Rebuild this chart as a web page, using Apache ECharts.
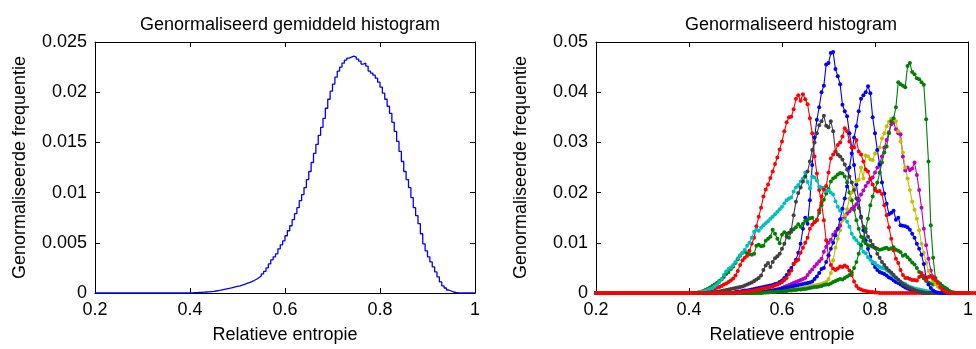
<!DOCTYPE html>
<html>
<head>
<meta charset="utf-8">
<script src="https://cdn.jsdelivr.net/npm/echarts@6/dist/echarts.min.js"></script>
<style>
html,body{margin:0;padding:0;background:#fff;}
#chart{width:976px;height:349px;}
</style>
</head>
<body>
<div id="chart"></div>
<script>
// ---------- data ----------
const titleLeft = 'Genormaliseerd gemiddeld histogram';
const titleRight = 'Genormaliseerd histogram';
const xAxisName = 'Relatieve entropie';
const yAxisName = 'Genormaliseerde frequentie';
const xTicks = [0.2, 0.4, 0.6, 0.8, 1];
const yTicksLeft = [0, 0.005, 0.01, 0.015, 0.02, 0.025];
const yTicksRight = [0, 0.01, 0.02, 0.03, 0.04, 0.05];

// bin left edges: 0.2 + 0.005*i
const binStart = 0.2;
const binWidth = 0.005;

// averaged histogram (left panel), one value per bin
const meanHist = [
0,0,0,0,0,0,0,0,0,0,
0,0,0,0,0,0,0,0,0,0,
0,0,0,0,0,0,0,0,0,0,
0,0,0,0,0,0,0,0,0,0,
0.00002,0.00003,0.00004,0.00005,0.00006,0.00008,0.0001,0.00012,0.00014,0.00016,
0.0002,0.00024,0.00028,0.00033,0.00038,0.00043,0.00048,0.00054,0.0006,0.00066,
0.00072,0.00079,0.00087,0.00095,0.00104,0.00113,0.00124,0.00137,0.00152,0.0017,
0.0019,0.00215,0.0025,0.0029,0.0033,0.0036,0.0039,0.0044,0.0048,0.0052,
0.0057,0.0062,0.0067,0.0073,0.0079,0.0085,0.0092,0.0098,0.0105,0.0113,
0.0121,0.013,0.0139,0.0148,0.0157,0.0165,0.0174,0.0184,0.0193,0.0201,
0.0208,0.0215,0.0221,0.0225,0.0229,0.0232,0.0234,0.0235,0.0236,0.0235,
0.0233,0.0231,0.0228,0.0229,0.0226,0.0221,0.0219,0.0217,0.0214,0.021,
0.0205,0.0199,0.0193,0.0186,0.0179,0.017,0.0161,0.0151,0.0141,0.0131,
0.0121,0.0113,0.0105,0.0095,0.0085,0.0077,0.0069,0.0059,0.0049,0.0042,
0.0036,0.0031,0.0026,0.0021,0.0016,0.0011,0.0007,0.0005,0.0003,0.0002,
0.0001,0.00005,0.00002,0,0,0,0,0,0,0,
0
];

// individual histograms (right panel), one value per bin
const hist1Blue = [
0,0,0,0,0,0,0,0,0,0, 0,0,0,0,0,0,0,0,0,0, 0,0,0,0,0,0,0,0,0,0,
0,0,0,0,0,0,0,0,0,0, 0,0,0,0,0,0,0,0,0,0, 0,0,0,0,0,0,0,0,0,0,
0.0002,0.0003,0.0003,0.0004,0.0005,0.0005,0.0006,0.0007,0.0008,0.0009,
0.0010,0.0011,0.0012,0.0013,0.0014,0.0015,0.0016,0.0018,0.0019,0.0022,
0.0025,0.0030,0.0036,0.0044,0.0050,0.0058,0.0066,0.0080,0.0098,0.0128,
0.0150,0.0138,0.0185,0.0255,0.0310,0.0345,0.0370,0.0400,0.0413,0.0455,
0.0458,0.0478,0.0480,0.0446,0.0432,0.0416,0.0375,0.0362,0.0352,0.0318,
0.0290,0.0255,0.0216,0.0185,0.0152,0.0125,0.0105,0.0088,0.0072,0.0060,
0.0052,0.0046,0.0042,0.0040,0.0038,0.0035,0.0031,0.0029,0.0025,0.0022,
0.0020,0.0017,0.0014,0.0011,0.0009,0.0007,0.0005,0.0004,0.0003,0.0002,
0.0001,0,0,0,0,0,0,0,0,0,
0,0,0,0,0,0,0,0,0,0,
0
];
const hist2Green = [
0,0,0,0,0,0,0,0,0,0, 0,0,0,0,0,0,0,0,0,0, 0,0,0,0,0,0,0,0,0,0,
0,0,0,0,0,0,0,0,0,0,
0,0,0,0,0.0001,0.0002,0.0004,0.0006,0.0008,0.0011,
0.0014,0.0017,0.0020,0.0024,0.0027,0.0032,0.0038,0.0042,0.0048,0.0053,
0.0060,0.0067,0.0074,0.0080,0.0082,0.0079,0.0077,0.0076,0.0078,0.0094,
0.0096,0.0093,0.0094,0.0104,0.0108,0.0112,0.0126,0.0118,0.0108,0.0099,
0.0116,0.0121,0.0118,0.0110,0.0122,0.0127,0.0131,0.0137,0.0132,0.0138,
0.0144,0.0146,0.0149,0.0150,0.0141,0.0145,0.0160,0.0175,0.0186,0.0198,
0.0207,0.0222,0.0228,0.0231,0.0236,0.0239,0.0238,0.0232,0.0220,0.0200,
0.0185,0.0166,0.0145,0.0128,0.0112,0.0104,0.0099,0.0095,0.0094,0.0092,
0.0090,0.0088,0.0086,0.0087,0.0089,0.0090,0.0087,0.0089,0.0091,0.0086,
0.0084,0.0081,0.0074,0.0076,0.0071,0.0066,0.0061,0.0057,0.0050,0.0042,
0.0034,0.0029,0.0024,0.0021,0.0019,0.0017,0.0019,0.0017,0.0016,0.0013,
0.0011,0.0008,0.0004,0.0002,0.0001,0,0,0,0,0,
0
];
const hist3Red = [
0,0,0,0,0,0,0,0,0,0, 0,0,0,0,0,0,0,0,0,0, 0,0,0,0,0,0,0,0,0,0,
0,0,0,0,0,0,0,0,0,0,
0,0,0,0,0,0,0.0002,0.0003,0.0005,0.0006,
0.0008,0.0009,0.0011,0.0012,0.0014,0.0017,0.0019,0.0022,0.0025,0.0029,
0.0035,0.0044,0.0056,0.0065,0.0070,0.0074,0.0084,0.0098,0.0110,0.0133,
0.0152,0.0170,0.0192,0.0206,0.0216,0.0229,0.0242,0.0257,0.0270,0.0286,
0.0302,0.0322,0.0340,0.0350,0.0351,0.0366,0.0387,0.0394,0.0383,0.0396,
0.0386,0.0376,0.0348,0.0318,0.0272,0.0238,0.0205,0.0180,0.0145,0.0105,
0.0074,0.0056,0.0049,0.0046,0.0049,0.0053,0.0052,0.0055,0.0052,0.0045,
0.0036,0.0023,0.0014,0.0009,0.0007,0.0005,0.0004,0.0003,0.0002,0.0002,
0.0001,0.0001,0,0,0,0,0,0,0,0,
0,0,0,0,0,0,0,0,0,0, 0,0,0,0,0,0,0,0,0,0, 0,0,0,0,0,0,0,0,0,0,
0,0,0,0,0,0,0,0,0,0,
0
];
const hist4Cyan = [
0,0,0,0,0,0,0,0,0,0, 0,0,0,0,0,0,0,0,0,0, 0,0,0,0,0,0,0,0,0,0,
0,0,0,0,0,0,0,0,0,0,
0,0,0,0,0.0001,0.0002,0.0003,0.0004,0.0006,0.0008,
0.0010,0.0013,0.0017,0.0022,0.0028,0.0036,0.0043,0.0048,0.0051,0.0056,
0.0062,0.0069,0.0075,0.0080,0.0086,0.0094,0.0100,0.0110,0.0122,0.0126,
0.0124,0.0130,0.0135,0.0139,0.0143,0.0148,0.0152,0.0157,0.0162,0.0167,
0.0172,0.0179,0.0185,0.0188,0.0190,0.0202,0.0210,0.0215,0.0222,0.0228,
0.0240,0.0221,0.0208,0.0232,0.0230,0.0224,0.0212,0.0210,0.0209,0.0203,
0.0204,0.0200,0.0196,0.0183,0.0172,0.0164,0.0168,0.0150,0.0142,0.0132,
0.0118,0.0110,0.0105,0.0099,0.0090,0.0082,0.0079,0.0071,0.0066,0.0062,
0.0060,0.0055,0.0052,0.0050,0.0049,0.0046,0.0043,0.0038,0.0034,0.0030,
0.0026,0.0023,0.0020,0.0018,0.0015,0.0012,0.0011,0.0009,0.0008,0.0007,
0.0006,0.0005,0.0004,0.0003,0.0002,0.0001,0,0,0,0,
0,0,0,0,0,0,0,0,0,0,
0
];
const hist5Magenta = [
0,0,0,0,0,0,0,0,0,0, 0,0,0,0,0,0,0,0,0,0, 0,0,0,0,0,0,0,0,0,0,
0,0,0,0,0,0,0,0,0,0, 0,0,0,0,0,0,0,0,0,0, 0,0,0,0,0,0,0,0,0,0,
0,0,0,0,0,0,0,0,0,0,
0,0,0.0001,0.0002,0.0003,0.0004,0.0005,0.0006,0.0007,0.0008,
0.0010,0.0012,0.0014,0.0016,0.0018,0.0020,0.0022,0.0024,0.0026,0.0028,
0.0030,0.0036,0.0042,0.0047,0.0053,0.0058,0.0063,0.0068,0.0082,0.0092,
0.0100,0.0106,0.0116,0.0122,0.0127,0.0134,0.0148,0.0154,0.0158,0.0163,
0.0168,0.0172,0.0177,0.0186,0.0196,0.0204,0.0213,0.0220,0.0226,0.0230,
0.0240,0.0250,0.0258,0.0272,0.0290,0.0305,0.0320,0.0336,0.0340,0.0326,
0.0318,0.0316,0.0272,0.0244,0.0250,0.0245,0.0248,0.0260,0.0235,0.0205,
0.0170,0.0128,0.0095,0.0068,0.0045,0.0033,0.0026,0.0021,0.0015,0.0009,
0.0005,0.0002,0.0001,0,0,0,0,0,0,0,
0
];
const hist6Yellow = [
0,0,0,0,0,0,0,0,0,0, 0,0,0,0,0,0,0,0,0,0, 0,0,0,0,0,0,0,0,0,0,
0,0,0,0,0,0,0,0,0,0, 0,0,0,0,0,0,0,0,0,0, 0,0,0,0,0,0,0,0,0,0,
0,0,0,0,0,0,0,0,0,0,
0,0,0.0001,0.0001,0.0002,0.0002,0.0003,0.0003,0.0004,0.0004,
0.0005,0.0005,0.0006,0.0006,0.0007,0.0007,0.0008,0.0008,0.0009,0.0010,
0.0011,0.0012,0.0013,0.0014,0.0015,0.0016,0.0017,0.0018,0.0020,0.0022,
0.0028,0.0040,0.0065,0.0090,0.0108,0.0125,0.0145,0.0155,0.0167,0.0188,
0.0200,0.0210,0.0222,0.0226,0.0250,0.0228,0.0274,0.0272,0.0266,0.0265,
0.0278,0.0284,0.0290,0.0308,0.0318,0.0332,0.0341,0.0347,0.0346,0.0342,
0.0322,0.0302,0.0280,0.0250,0.0228,0.0205,0.0182,0.0166,0.0148,0.0125,
0.0098,0.0080,0.0060,0.0044,0.0032,0.0024,0.0018,0.0013,0.0009,0.0005,
0.0002,0.0001,0,0,0,0,0,0,0,0,
0
];
const hist7Gray = [
0,0,0,0,0,0,0,0,0,0, 0,0,0,0,0,0,0,0,0,0, 0,0,0,0,0,0,0,0,0,0,
0,0,0,0,0,0,0,0,0,0,
0,0,0,0,0,0,0,0,0.0001,0.0001,
0.0002,0.0002,0.0003,0.0003,0.0004,0.0005,0.0006,0.0007,0.0008,0.0009,
0.0010,0.0011,0.0012,0.0013,0.0015,0.0017,0.0019,0.0021,0.0024,0.0027,
0.0030,0.0035,0.0046,0.0055,0.0060,0.0052,0.0062,0.0069,0.0073,0.0078,
0.0088,0.0098,0.0112,0.0120,0.0126,0.0155,0.0182,0.0199,0.0210,0.0222,
0.0232,0.0242,0.0262,0.0285,0.0300,0.0318,0.0334,0.0342,0.0353,0.0333,
0.0330,0.0342,0.0322,0.0282,0.0276,0.0272,0.0266,0.0256,0.0246,0.0232,
0.0220,0.0205,0.0188,0.0170,0.0150,0.0132,0.0122,0.0112,0.0104,0.0096,
0.0090,0.0078,0.0070,0.0062,0.0056,0.0050,0.0045,0.0041,0.0036,0.0031,
0.0027,0.0022,0.0018,0.0015,0.0012,0.0010,0.0008,0.0006,0.0004,0.0003,
0.0002,0.0001,0,0,0,0,0,0,0,0,
0,0,0,0,0,0,0,0,0,0,
0
];
const hist8Blue = [
0,0,0,0,0,0,0,0,0,0, 0,0,0,0,0,0,0,0,0,0, 0,0,0,0,0,0,0,0,0,0,
0,0,0,0,0,0,0,0,0,0, 0,0,0,0,0,0,0,0,0,0, 0,0,0,0,0,0,0,0,0,0,
0,0,0,0,0,0,0,0,0.0001,0.0001,
0.0002,0.0002,0.0003,0.0003,0.0004,0.0005,0.0005,0.0006,0.0007,0.0008,
0.0009,0.0010,0.0011,0.0012,0.0013,0.0014,0.0015,0.0016,0.0017,0.0018,
0.0019,0.0020,0.0021,0.0023,0.0028,0.0033,0.0040,0.0048,0.0050,0.0062,
0.0075,0.0088,0.0100,0.0115,0.0128,0.0147,0.0168,0.0188,0.0212,0.0250,
0.0278,0.0310,0.0332,0.0362,0.0387,0.0394,0.0400,0.0412,0.0398,0.0350,
0.0318,0.0285,0.0256,0.0220,0.0198,0.0178,0.0157,0.0160,0.0164,0.0146,
0.0150,0.0135,0.0134,0.0133,0.0131,0.0126,0.0118,0.0110,0.0098,0.0088,
0.0076,0.0058,0.0030,0.0017,0.0010,0.0005,0.0002,0.0001,0,0,
0,0,0,0,0,0,0,0,0,0,
0
];
const hist9Green = [
0,0,0,0,0,0,0,0,0,0, 0,0,0,0,0,0,0,0,0,0, 0,0,0,0,0,0,0,0,0,0,
0,0,0,0,0,0,0,0,0,0, 0,0,0,0,0,0,0,0,0,0, 0,0,0,0,0,0,0,0,0,0,
0,0,0,0,0,0,0,0,0,0,
0,0,0.0001,0.0001,0.0001,0.0002,0.0002,0.0002,0.0003,0.0003,
0.0003,0.0004,0.0004,0.0005,0.0005,0.0006,0.0006,0.0007,0.0007,0.0008,
0.0008,0.0009,0.0010,0.0011,0.0012,0.0012,0.0013,0.0014,0.0016,0.0017,
0.0017,0.0019,0.0022,0.0024,0.0026,0.0028,0.0027,0.0030,0.0033,0.0036,
0.0041,0.0050,0.0062,0.0078,0.0095,0.0110,0.0128,0.0148,0.0175,0.0192,
0.0208,0.0220,0.0240,0.0260,0.0280,0.0292,0.0318,0.0342,0.0348,0.0370,
0.0420,0.0416,0.0413,0.0410,0.0452,0.0458,0.0440,0.0436,0.0428,0.0426,
0.0420,0.0415,0.0346,0.0262,0.0135,0.0070,0.0030,0.0022,0.0019,0.0014,
0.0010,0.0006,0.0003,0.0001,0,0,0,0,0,0,
0
];
const hist10Red = [
0,0,0,0,0,0,0,0,0,0, 0,0,0,0,0,0,0,0,0,0, 0,0,0,0,0,0,0,0,0,0,
0,0,0,0,0,0,0,0,0,0, 0,0,0,0,0,0,0,0,0,0, 0,0,0,0,0,0,0,0,0,0,
0.0001,0.0001,0.0002,0.0002,0.0003,0.0003,0.0004,0.0004,0.0005,0.0006,
0.0007,0.0008,0.0009,0.0010,0.0011,0.0012,0.0013,0.0015,0.0017,0.0019,
0.0022,0.0026,0.0030,0.0038,0.0045,0.0058,0.0063,0.0066,0.0080,0.0090,
0.0100,0.0110,0.0128,0.0136,0.0141,0.0146,0.0165,0.0192,0.0206,0.0213,
0.0240,0.0268,0.0276,0.0282,0.0295,0.0300,0.0312,0.0328,0.0322,0.0302,
0.0290,0.0290,0.0305,0.0282,0.0276,0.0262,0.0246,0.0242,0.0228,0.0216,
0.0205,0.0202,0.0203,0.0197,0.0175,0.0155,0.0131,0.0108,0.0085,0.0068,
0.0060,0.0046,0.0036,0.0030,0.0030,0.0028,0.0026,0.0026,0.0025,0.0032,
0.0040,0.0034,0.0027,0.0032,0.0034,0.0029,0.0026,0.0020,0.0012,0.0007,
0.0003,0.0001,0,0,0,0,0,0,0,0,
0
];

const rightSeries = [
  { name: 'hist1', values: hist1Blue,    color: '#0000ff' },
  { name: 'hist2', values: hist2Green,   color: '#008000' },
  { name: 'hist3', values: hist3Red,     color: '#ff0000' },
  { name: 'hist4', values: hist4Cyan,    color: '#00bfbf' },
  { name: 'hist5', values: hist5Magenta, color: '#bf00bf' },
  { name: 'hist6', values: hist6Yellow,  color: '#bfbf00' },
  { name: 'hist7', values: hist7Gray,    color: '#404040' },
  { name: 'hist8', values: hist8Blue,    color: '#0000ff' },
  { name: 'hist9', values: hist9Green,   color: '#008000' },
  { name: 'hist10', values: hist10Red,   color: '#ff0000' }
];

// ---------- chart ----------
function toPoints(values) {
  return values.map((v, i) => [Math.round((binStart + i * binWidth) * 1000) / 1000, v]);
}

const FONT = '"Liberation Sans", Arial, Helvetica, sans-serif';
const GRID_W = 380, GRID_H = 255, GRID_TOP = 42;
const grids = [
  { left: 95, top: GRID_TOP, width: GRID_W, height: GRID_H },
  { left: 596, top: GRID_TOP, width: GRID_W, height: GRID_H }
];

function xAxisPair(gridIndex) {
  const common = {
    type: 'value', gridIndex: gridIndex, min: xTicks[0], max: xTicks[xTicks.length - 1],
    interval: xTicks[1] - xTicks[0],
    splitLine: { show: false },
    axisLine: { show: true, onZero: false, lineStyle: { color: '#000', width: 1 } },
    axisTick: { show: true, inside: true, length: 5, lineStyle: { color: '#000' } }
  };
  return [
    Object.assign({}, common, {
      position: 'bottom',
      name: xAxisName, nameLocation: 'middle', nameGap: 33,
      nameTextStyle: { fontFamily: FONT, fontSize: 18, color: '#000' },
      axisLabel: { show: true, fontFamily: FONT, fontSize: 18, color: '#000', margin: 8,
                   showMinLabel: true, showMaxLabel: true, hideOverlap: false }
    }),
    Object.assign({}, common, { position: 'top', axisLabel: { show: false } })
  ];
}
function yAxisPair(gridIndex, ticks) {
  const common = {
    type: 'value', gridIndex: gridIndex, min: ticks[0], max: ticks[ticks.length - 1],
    interval: ticks[1] - ticks[0],
    splitLine: { show: false },
    axisLine: { show: true, onZero: false, lineStyle: { color: '#000', width: 1 } },
    axisTick: { show: true, inside: true, length: 5, lineStyle: { color: '#000' } }
  };
  return [
    Object.assign({}, common, {
      position: 'left',
      name: yAxisName, nameLocation: 'middle', nameGap: 66,
      nameTextStyle: { fontFamily: FONT, fontSize: 18, color: '#000' },
      axisLabel: { show: true, fontFamily: FONT, fontSize: 18, color: '#000', margin: 8,
                   showMinLabel: true, showMaxLabel: true }
    }),
    Object.assign({}, common, { position: 'right', axisLabel: { show: false } })
  ];
}

const xAxes = [].concat(xAxisPair(0), xAxisPair(1));
const yAxes = [].concat(yAxisPair(0, yTicksLeft), yAxisPair(1, yTicksRight));

const series = [{
  type: 'line', name: 'gemiddeld', xAxisIndex: 0, yAxisIndex: 0,
  data: toPoints(meanHist), step: 'end', symbol: 'none', clip: false,
  lineStyle: { color: '#0000ff', width: 1.3 }, itemStyle: { color: '#0000ff' }
}];
rightSeries.forEach(s => {
  series.push({
    type: 'line', name: s.name, xAxisIndex: 2, yAxisIndex: 2,
    data: toPoints(s.values), symbol: 'circle', symbolSize: 4, clip: false,
    lineStyle: { color: s.color, width: 1.1 }, itemStyle: { color: s.color }
  });
});

const chart = echarts.init(document.getElementById('chart'), null, { renderer: 'canvas' });
chart.setOption({
  animation: false,
  backgroundColor: '#fff',
  textStyle: { fontFamily: FONT },
  title: [
    { text: titleLeft, left: 285, top: 11, textAlign: 'center',
      textStyle: { fontFamily: FONT, fontSize: 18, fontWeight: 'normal', color: '#000' } },
    { text: titleRight, left: 786, top: 11, textAlign: 'center',
      textStyle: { fontFamily: FONT, fontSize: 18, fontWeight: 'normal', color: '#000' } }
  ],
  grid: grids,
  xAxis: xAxes,
  yAxis: yAxes,
  series: series
});
</script>
</body>
</html>
